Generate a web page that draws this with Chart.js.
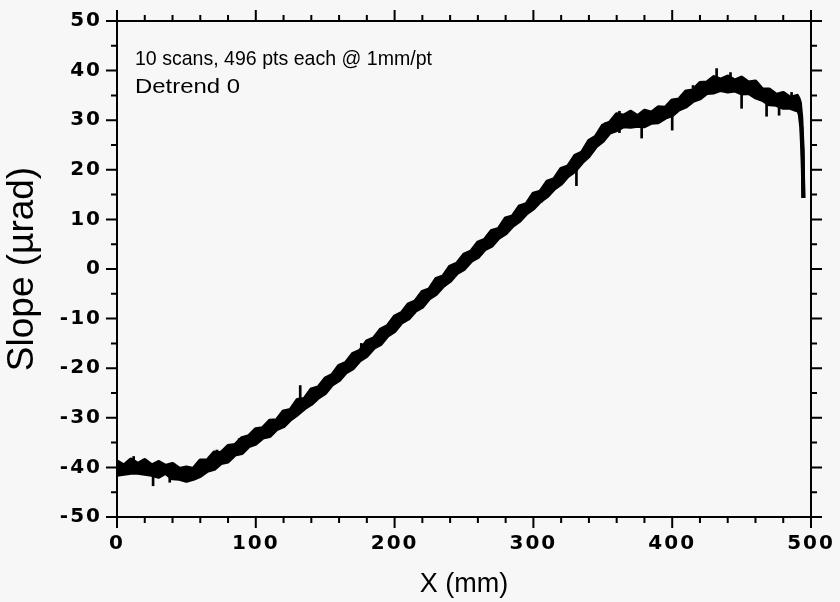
<!DOCTYPE html>
<html><head><meta charset="utf-8">
<script src="https://cdn.jsdelivr.net/npm/chart.js@4.4.0/dist/chart.umd.min.js"></script>
<style>html,body{margin:0;padding:0;background:#f7f7f7;}#wrap{width:840px;height:602px;}</style>
</head><body><div id="wrap"><canvas id="c" width="840" height="602"></canvas></div>
<script>
// X positions (mm) of the traced band
const xPos = [0,5,10,15,20,25,30,35,40,45,50,55,60,65,70,75,80,85,90,95,
  100,105,110,115,120,125,130,135,140,145,150,155,160,165,170,175,180,185,190,195,
  200,205,210,215,220,225,230,235,240,245,250,255,260,265,270,275,280,285,290,295,
  300,305,310,315,320,325,330,335,340,345,350,355,360,365,370,375,380,385,390,395,
  400,405,410,415,420,425,430,435,440,445,450,455,460,465,470,475,480,485,490,491,492,493,494,494.5];
// upper edge of the 10-scan band (µrad)
const scanUpper = [-38.8,-39.6,-38.4,-39.3,-38.5,-39.6,-38.9,-39.7,-39.3,-40.3,-40.0,-40.3,-38.6,-38.6,-37.0,-37.1,-35.7,-35.5,-34.1,-33.7,
  -32.3,-32.1,-30.6,-30.5,-28.7,-28.4,-26.4,-26.2,-24.3,-23.9,-22.1,-21.4,-19.5,-18.9,-17.1,-16.5,-14.6,-14.0,-12.2,-11.5,
  -9.6,-8.9,-7.1,-6.5,-4.6,-4.1,-2.0,-1.5,0.5,1.1,2.9,3.5,5.3,5.9,7.7,8.1,10.2,10.6,12.6,13.1,
  15.2,15.6,17.6,18.1,20.2,20.7,22.8,23.5,25.8,26.7,28.9,29.5,31.2,30.9,31.7,30.8,31.9,31.5,32.6,32.5,
  34.0,34.2,35.8,36.0,37.5,37.6,38.7,38.2,38.8,38.0,38.6,37.6,37.8,36.2,36.2,35.1,35.5,34.5,34.9,34.4,33.5,30.5,24.0,14.3];
// lower edge of the 10-scan band (µrad)
const scanLower = [-41.5,-41.3,-41.1,-41.1,-41.3,-41.5,-41.9,-41.1,-42.2,-42.3,-42.7,-42.3,-41.7,-40.7,-40.3,-39.1,-38.8,-37.4,-37.1,-35.7,
  -35.2,-34.0,-33.7,-32.3,-31.7,-30.3,-29.3,-28.1,-27.2,-25.9,-25.0,-23.3,-22.4,-20.8,-20.0,-18.4,-17.5,-15.9,-15.1,-13.4,
  -12.5,-10.8,-10.0,-8.4,-7.6,-5.9,-5.0,-3.4,-2.4,-0.8,0.0,1.6,2.4,4.0,4.7,6.3,7.2,8.7,9.7,11.2,
  12.2,13.7,14.7,16.2,17.2,18.8,19.8,21.5,22.8,24.7,25.8,27.5,28.0,28.8,28.7,28.9,28.8,29.5,29.6,30.5,
  31.0,32.2,32.8,33.9,34.4,35.5,35.6,36.1,35.8,36.0,35.4,35.5,34.6,34.1,33.2,33.1,32.5,32.5,32.0,32.0,31.0,28.5,22.0,14.3];
// isolated spikes / stray points in individual scans
const spikeX    = [26,    132,   331,  378,  400,  432,  450,  468,  477,  12,    38,    72,    88,    118,   158,   176,   214,   236,   262,   287,  306,  318,  352,  362,  415,  442,  458,  486];
const spikeLow  = [-43.7, -28.0, 16.8, 26.4, 28.0, 37.0, 32.4, 30.8, 31.0, -40.0, -43.0, -38.5, -36.0, -31.5, -22.0, -17.5, -9.0,  -3.5,  3.5,   9.0,  13.5, 17.0, 27.0, 27.5, 35.0, 37.0, 35.5, 33.0];
const spikeHigh = [-41.0, -23.5, 21.0, 30.0, 31.5, 40.4, 36.5, 35.0, 34.0, -37.8, -40.5, -36.5, -34.2, -29.5, -20.5, -15.0, -6.8,  -1.5,  5.8,   11.2, 15.5, 19.6, 29.5, 31.8, 37.0, 39.6, 37.5, 35.6];
// tick labels
const xTickValues = [0,100,200,300,400,500];
const xTickLabels = ['0','100','200','300','400','500'];
const yTickValues = [-50,-40,-30,-20,-10,0,10,20,30,40,50];
const yTickLabels = ['-50','-40','-30','-20','-10','0','10','20','30','40','50'];
const annotationLines = ['10 scans, 496 pts each @ 1mm/pt', 'Detrend 0'];
const xTitle = 'X (mm)';
const yTitle = 'Slope (µrad)';

const FONT = "'Liberation Sans', Arial, Helvetica, sans-serif";
const TICKFONT = "'DejaVu Sans', Verdana, sans-serif";

const framePlugin = {
  id: 'frame',
  beforeDraw(c) {
    const g = c.ctx;
    g.letterSpacing = '0px';
    g.save(); g.fillStyle = '#f7f7f7'; g.fillRect(0, 0, c.width, c.height); g.restore();
  },
  afterDatasetsDraw(c) { c.ctx.letterSpacing = '2px'; },
  afterDraw(c) {
    const g = c.ctx, a = c.chartArea, sx = c.scales.x, sy = c.scales.y;
    g.letterSpacing = '0px';
    g.save();
    g.strokeStyle = '#000'; g.lineWidth = 2; g.lineCap = 'butt';
    g.beginPath();
    g.rect(a.left, a.top, a.right - a.left, a.bottom - a.top);
    for (let v = sx.min; v <= sx.max; v += 20) {
      const p = sx.getPixelForValue(v), L = (v % 100 === 0) ? 11 : 6;
      g.moveTo(p, a.bottom); g.lineTo(p, a.bottom + L);
      g.moveTo(p, a.top); g.lineTo(p, a.top - L);
    }
    for (let v = sy.min; v <= sy.max; v += 5) {
      const p = sy.getPixelForValue(v), L = (v % 10 === 0) ? 11 : 6;
      g.moveTo(a.left, p); g.lineTo(a.left - L, p);
      g.moveTo(a.right, p); g.lineTo(a.right + L, p);
    }
    g.stroke();
    // annotation text
    g.fillStyle = '#000';
    g.font = '21px ' + FONT;
    g.textBaseline = 'alphabetic'; g.textAlign = 'left';
    const targets = [297, 105];
    annotationLines.forEach((t, i) => {
      const w = g.measureText(t).width;
      g.save();
      g.translate(a.left + 18, a.top + 44 + i * 28);
      g.scale(targets[i] / w, 1);
      g.fillText(t, 0, 0);
      g.restore();
    });
    g.restore();
  }
};

new Chart(document.getElementById('c'), {
  type: 'line',
  data: {
    datasets: [
      { type: 'line', data: xPos.map((x, i) => ({x, y: scanUpper[i]})), borderColor: '#000', borderWidth: 4,
        pointRadius: 0, tension: 0, fill: false, borderJoinStyle: 'round' },
      { type: 'line', data: xPos.map((x, i) => ({x, y: scanLower[i]})), borderColor: '#000', borderWidth: 4,
        pointRadius: 0, tension: 0, fill: '-1', backgroundColor: '#000', borderJoinStyle: 'round' },
      { type: 'bar', data: spikeX.map((x, i) => ({x, y: [spikeLow[i], spikeHigh[i]]})), backgroundColor: '#000',
        barThickness: 2, borderWidth: 0 }
    ]
  },
  options: {
    responsive: false, animation: false,
    layout: { padding: { top: 21, right: 29, left: 0, bottom: 0 } },
    plugins: { legend: { display: false }, tooltip: { enabled: false } },
    scales: {
      x: {
        type: 'linear', position: 'bottom', min: 0, max: 500, offset: false,
        afterBuildTicks(s) { s.ticks = xTickValues.map(v => ({value: v})); },
        afterFit(s) { s.height = 85; s.paddingLeft = 0; s.paddingRight = 0; },
        ticks: { z: 1, padding: 15, color: '#000', maxRotation: 0, autoSkip: false,
          font: { family: TICKFONT, size: 20, weight: 'bold' },
          callback: (v) => xTickLabels[xTickValues.indexOf(v)] },
        grid: { display: false, drawTicks: false, offset: false },
        border: { display: false },
        title: { display: true, text: xTitle, color: '#000', font: { family: FONT, size: 27 }, padding: { top: 0, bottom: 1 } }
      },
      y: {
        type: 'linear', position: 'left', min: -50, max: 50,
        afterBuildTicks(s) { s.ticks = yTickValues.map(v => ({value: v})); },
        afterFit(s) { s.width = 117; s.paddingTop = 0; s.paddingBottom = 0; },
        ticks: { z: 1, padding: 15, color: '#000', autoSkip: false,
          font: { family: TICKFONT, size: 20, weight: 'bold' },
          callback: (v) => yTickLabels[yTickValues.indexOf(v)] },
        grid: { display: false, drawTicks: false },
        border: { display: false },
        title: { display: true, text: yTitle, color: '#000', font: { family: FONT, size: 37 }, padding: { top: 1, bottom: 0 } }
      }
    }
  },
  plugins: [framePlugin]
});
</script>
</body></html>
